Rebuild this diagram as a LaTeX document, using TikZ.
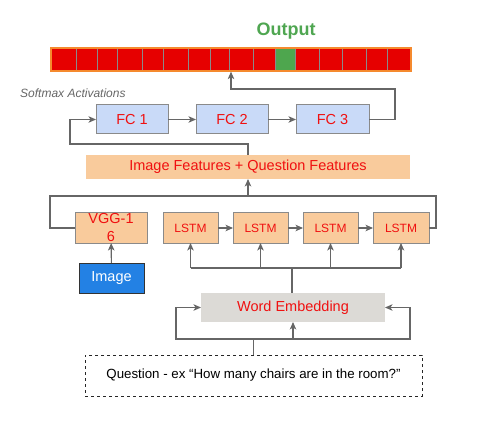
\documentclass[tikz,border=0pt]{standalone}
\usepackage{fontspec}
\setmainfont{Liberation Sans}
\usetikzlibrary{arrows.meta,calc}
\definecolor{txtred}{HTML}{F01010}
\definecolor{cellred}{HTML}{E60000}
\definecolor{cellgreen}{HTML}{4EA64E}
\definecolor{outgreen}{HTML}{4FA651}
\definecolor{barorange}{HTML}{F58A2E}
\definecolor{fcblue}{HTML}{C9DAF8}
\definecolor{peach}{HTML}{F9CB9C}
\definecolor{wegray}{HTML}{DCDAD6}
\definecolor{imgblue}{HTML}{2381E4}
\definecolor{linegray}{HTML}{666666}
\definecolor{boxgray}{HTML}{8A8A8A}
\tikzset{
  fs/.style 2 args={font=\fontsize{#1}{#2}\selectfont},
  base/.style={inner sep=0pt, outer sep=0pt, text=txtred, fs={14.5}{18}},
  fcbox/.style={base, draw=boxgray, line width=1pt, fill=fcblue, minimum height=29pt},
  orbox/.style={base, draw=boxgray, line width=1pt, fill=peach, minimum height=30pt},
  lstmbox/.style={orbox, fs={12}{14}, minimum width=55pt},
  wire/.style={draw=linegray, line width=1.1pt},
  conn/.style={wire, -{Stealth[length=7.5pt,width=6.5pt,inset=2pt]}},
}
\begin{document}
\begin{tikzpicture}[x=1pt,y=-1pt]
\useasboundingbox (0,0) rectangle (477,433);
% output bar
\node[inner sep=0pt, text=outgreen, font=\fontsize{18}{22}\selectfont\bfseries] (outlbl) at (286,31.5) {Output};
\fill[cellred] (51,48) rectangle (411,71);
\fill[cellgreen] (275,48) rectangle (295,71);
\foreach \xx in {76,97,117,142,163,188,210,229,253,275,295,319,342,366,387}
  \draw[boxgray, line width=0.9pt] (\xx,48) -- (\xx,71);
\node[draw=barorange, line width=1.3pt, inner sep=0pt, minimum width=360pt, minimum height=23pt] (bar) at (231,59.5) {};
\node[inner sep=0pt, anchor=west, text=linegray, font=\fontsize{12}{14}\selectfont\itshape] (soft) at (20,93) {Softmax Activations};
% FC
\node[fcbox, minimum width=72pt] (fc1) at (132,119.5) {FC 1};
\node[fcbox, minimum width=72pt] (fc2) at (232,119.5) {FC 2};
\node[fcbox, minimum width=73pt] (fc3) at (332.5,119.5) {FC 3};
\node[base, fill=peach, minimum width=324pt, minimum height=24pt] (feat) at (248,167) {Image Features + Question Features};
% encoders
\node[orbox, minimum width=72pt, align=center, text width=60pt] (vgg) at (111,228) {VGG-1\\6};
\node[lstmbox] (l1) at (190.5,228) {LSTM};
\node[lstmbox] (l2) at (260.5,228) {LSTM};
\node[lstmbox] (l3) at (330.5,228) {LSTM};
\node[lstmbox, minimum width=56pt] (l4) at (401,228) {LSTM};
\node[base, text=white, draw=black!80, line width=1pt, fill=imgblue, minimum width=65pt, minimum height=30pt] (img) at (111.5,278) {Image};
\node[base, fill=wegray, minimum width=184pt, minimum height=29pt] (we) at (293,307.5) {Word Embedding};
\node[base, text=black, fs={13.3}{16}, draw=black!85, dashed, line width=0.9pt, minimum width=337pt, minimum height=41pt] (q) at (253.5,375.5) {Question - ex “How many chairs are in the room?”};
% connectors: FC chain and output
\draw[conn] (fc1) -- (fc2);
\draw[conn] (fc2) -- (fc3);
\coordinate (otap) at (231,89);
\draw[conn] (fc3.east) -| (395,89) -- (otap) -- (bar.south -| otap);
\coordinate (ftap) at (70,144);
\draw[conn] (feat.north) |- (ftap) |- (fc1.west);
% feature bus
\coordinate (fbus) at (248,196);
\draw[wire] (vgg.west) -| (50,196) -| (436,228) -- (l4.east);
\draw[conn] (fbus) -- (feat.south);
\draw[conn] (img) -- (vgg);
\draw[conn] (l1) -- (l2);
\draw[conn] (l2) -- (l3);
\draw[conn] (l3) -- (l4);
% word embedding bus
\coordinate (wbus) at (292,268);
\draw[wire] (we.north -| wbus) -- (wbus);
\draw[wire] (l1.south |- wbus) -- (l4.south |- wbus);
\foreach \n in {l1,l2,l3,l4} \draw[conn] (\n.south |- wbus) -- (\n.south);
% question bus
\coordinate (qbus) at (253.5,339);
\draw[wire] (q.north) -- (qbus);
\draw[conn] (qbus) -| (176,307.5) -- (we.west);
\draw[conn] (qbus) -| (410,307.5) -- (we.east);
\draw[conn] (we.south |- qbus) -- (we.south);
\end{tikzpicture}
\end{document}
